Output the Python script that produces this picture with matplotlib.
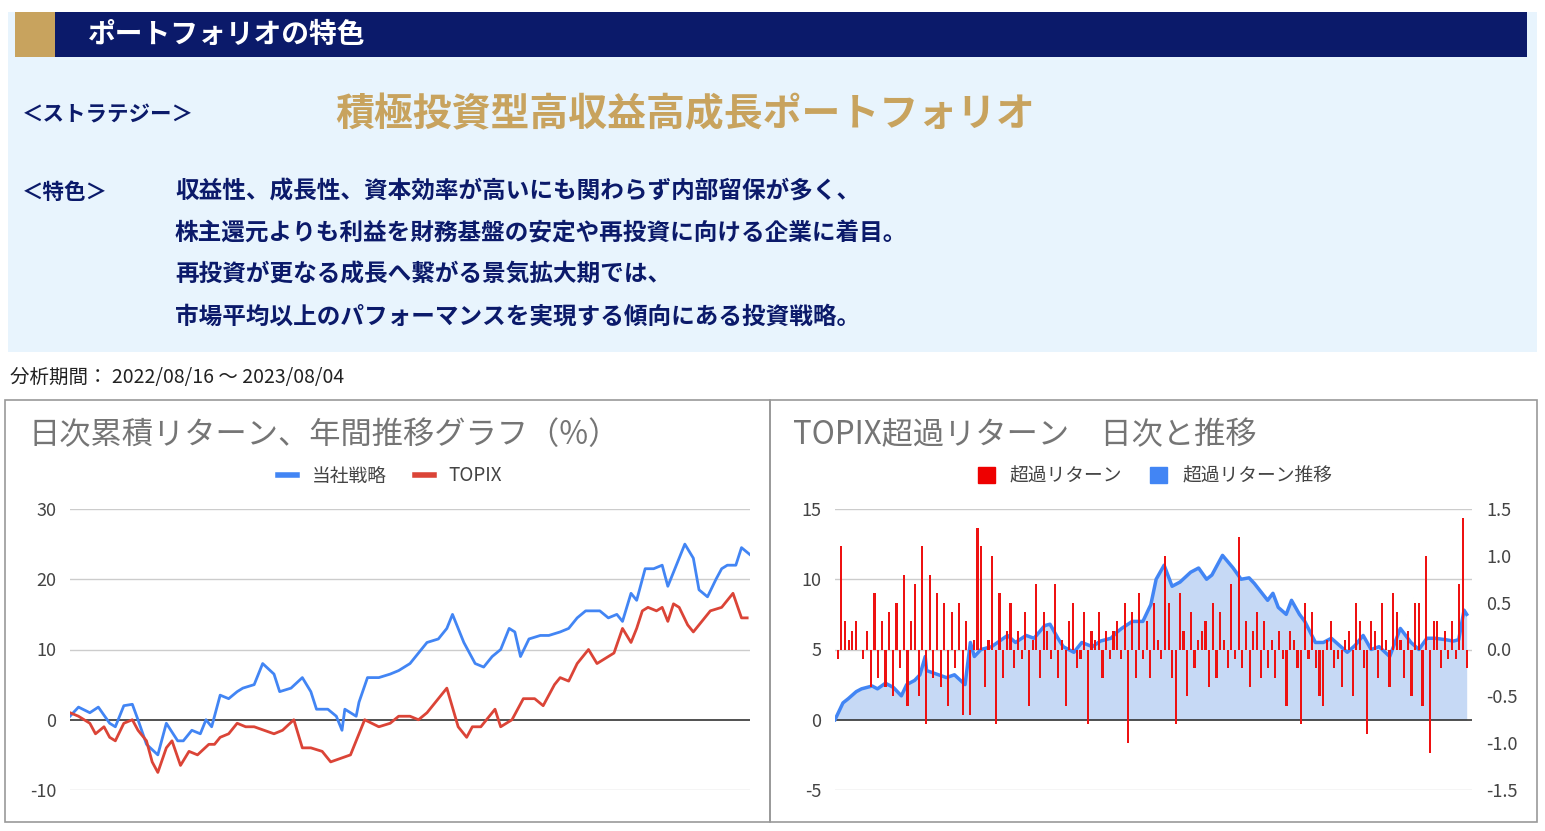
import numpy as np
import matplotlib.pyplot as plt
from matplotlib.patches import Rectangle
from matplotlib.lines import Line2D

plt.rcParams['font.family'] = ['Noto Sans CJK JP', 'DejaVu Sans']
plt.rcParams['axes.unicode_minus'] = False

W, H = 1545, 831

# ---- data ----
# left chart: positions along the year (0..240 trading days) and cumulative return (%)
strat_day = [0, 3, 7, 10, 14, 16, 19, 22, 24, 27, 31, 34, 38, 40, 43, 46, 48, 50, 53, 56, 59, 61, 65, 68, 72, 74, 78, 82, 85, 87, 91, 94, 96, 97, 101, 102, 105, 109, 113, 116, 120, 123, 126, 130, 133, 135, 139, 143, 146, 149, 152, 155, 157, 159, 162, 166, 169, 173, 176, 179, 182, 187, 190, 193, 195, 198, 200, 203, 206, 209, 211, 217, 220, 222, 225, 228, 230, 232, 235, 237, 240]
strat_ret = [0.5, 1.8, 1.0, 1.8, -0.5, -1.0, 2.0, 2.2, 0.0, -3.5, -5.0, -0.5, -3.0, -3.0, -1.5, -2.0, 0.0, -1.0, 3.5, 3.0, 4.0, 4.5, 5.0, 8.0, 6.5, 4.0, 4.5, 6.0, 4.0, 1.5, 1.5, 0.5, -1.5, 1.5, 0.5, 2.5, 6.0, 6.0, 6.5, 7.0, 8.0, 9.5, 11.0, 11.5, 13.0, 15.0, 11.0, 8.0, 7.5, 9.0, 10.0, 13.0, 12.5, 9.0, 11.5, 12.0, 12.0, 12.5, 13.0, 14.5, 15.5, 15.5, 14.5, 15.0, 14.0, 18.0, 17.0, 21.5, 21.5, 22.0, 19.0, 25.0, 23.0, 18.5, 17.5, 20.0, 21.5, 22.0, 22.0, 24.5, 23.5]
strat_day = strat_day[:len(strat_ret)]
topix_day = [0, 3, 7, 9, 12, 14, 16, 19, 22, 24, 27, 29, 31, 34, 36, 39, 42, 45, 49, 51, 53, 56, 59, 62, 65, 72, 75, 79, 82, 85, 89, 92, 99, 102, 104, 109, 113, 116, 120, 123, 126, 130, 133, 137, 140, 142, 145, 147, 150, 152, 156, 158, 160, 164, 167, 171, 173, 176, 179, 183, 186, 188, 192, 195, 198, 200, 202, 204, 207, 209, 211, 213, 215, 218, 220, 223, 226, 230, 234, 237, 239]
topix_ret = [1.0, 0.5, -0.5, -2.0, -1.0, -2.5, -3.0, -0.5, 0.0, -1.5, -3.0, -6.0, -7.5, -4.0, -3.0, -6.5, -4.5, -5.0, -3.5, -3.5, -2.5, -2.0, -0.5, -1.0, -1.0, -2.0, -1.5, 0.0, -4.0, -4.0, -4.5, -6.0, -5.0, -2.0, 0.0, -1.0, -0.5, 0.5, 0.5, 0.0, 1.0, 3.0, 4.5, -1.0, -2.5, -1.0, -1.0, 0.0, 1.5, -1.0, 0.0, 1.5, 3.0, 3.0, 2.0, 5.0, 6.0, 5.5, 8.0, 10.0, 8.0, 8.5, 9.5, 13.0, 11.0, 13.0, 15.5, 16.0, 15.5, 16.0, 14.0, 16.5, 16.0, 13.5, 12.5, 14.0, 15.5, 16.0, 18.0, 14.5, 14.5]
topix_day = topix_day[:len(topix_ret)]

# right chart: cumulative excess (left axis) and daily excess bars (right axis)
cum_day = [0, 3, 5, 8, 10, 14, 16, 19, 22, 25, 27, 30, 32, 34, 34.5, 39, 42, 45, 49, 51, 52.5, 55, 59, 62, 65, 68, 72, 75, 79, 81, 84, 86, 90, 93, 97, 100, 104, 106, 108, 112, 116, 119, 121, 124, 127, 130, 134, 137, 140, 142, 146, 150, 153, 156, 158, 163, 165, 167, 170, 172, 175, 177, 181, 184, 187, 190, 193, 196, 199, 202, 205, 209, 211, 213, 217, 220, 223, 226, 230, 233, 235, 237, 238]
cum_ex = [0.0, 1.2, 1.5, 2.0, 2.2, 2.4, 2.2, 2.6, 2.3, 1.7, 2.5, 2.8, 3.2, 4.5, 3.5, 3.2, 3.0, 3.2, 2.5, 5.5, 4.5, 5.0, 5.2, 5.6, 6.0, 5.5, 6.0, 5.8, 6.7, 6.8, 5.8, 5.2, 4.8, 5.5, 5.2, 5.6, 5.8, 6.2, 6.5, 7.0, 7.0, 8.2, 10.0, 11.0, 9.5, 9.8, 10.5, 10.8, 10.0, 10.3, 11.7, 10.8, 10.0, 10.1, 9.7, 8.5, 9.0, 8.0, 7.5, 8.5, 7.5, 7.0, 5.5, 5.5, 5.8, 5.3, 4.8, 5.3, 6.0, 5.0, 5.2, 4.5, 5.5, 6.5, 5.5, 5.0, 5.8, 5.8, 5.7, 5.6, 5.7, 7.8, 7.5]
cum_day = cum_day[:len(cum_ex)]
daily_ex = [-0.1, 1.1, 0.3, 0.1, 0.2, 0.3, 0.0, -0.1, 0.2, -0.4, 0.6, -0.3, 0.3, -0.4, 0.4, -0.5, 0.5, -0.2, 0.8, -0.6,
            0.3, 0.7, -0.5, 1.1, -0.8, 0.8, -0.3, 0.6, -0.4, 0.5, -0.6, 0.4, -0.2, 0.5, -0.7, 0.3, -0.7, 0.1, 1.3, 1.1,
            -0.4, 0.1, 1.0, -0.8, 0.6, -0.3, 0.2, 0.5, -0.2, 0.2, -0.1, 0.4, -0.6, 0.1, 0.7, -0.3, 0.4, 0.2, -0.1, 0.7,
            -0.3, 0.1, -0.6, 0.3, 0.5, -0.2, -0.1, 0.4, -0.8, 0.2, 0.1, 0.4, -0.3, 0.2, -0.1, 0.2, 0.3, -0.1, 0.5, -1.0,
            0.4, -0.3, 0.6, -0.1, 0.3, -0.3, 0.5, 0.1, -0.1, 1.0, 0.5, -0.3, -0.8, 0.6, 0.2, -0.5, 0.4, -0.2, 0.1, 0.2,
            0.3, -0.4, 0.5, -0.3, 0.4, 0.1, -0.2, 0.7, -0.1, 1.2, -0.2, 0.3, -0.4, 0.2, 0.4, -0.3, 0.3, -0.2, 0.1, -0.3,
            0.2, -0.1, -0.6, 0.2, 0.1, -0.2, -0.8, 0.5, -0.1, 0.4, -0.2, -0.5, -0.6, 0.1, 0.3, -0.2, -0.1, -0.4, 0.1, 0.2,
            -0.5, 0.5, 0.3, -0.2, -0.9, 0.3, 0.2, -0.3, 0.5, 0.1, -0.4, 0.6, 0.4, 0.1, -0.3, 0.2, -0.5, 0.5, 0.5, -0.6,
            1.0, -1.1, 0.3, 0.3, -0.2, 0.2, -0.1, 0.3, -0.1, 0.7, 1.4, -0.2]

lines_text = [
    '収益性、成長性、資本効率が高いにも関わらず内部留保が多く、',
    '株主還元よりも利益を財務基盤の安定や再投資に向ける企業に着目。',
    '再投資が更なる成長へ繋がる景気拡大期では、',
    '市場平均以上のパフォーマンスを実現する傾向にある投資戦略。',
]

NAVY = '#0b1a6a'
GOLD = '#c8a35e'
BLUE = '#4285f4'
RED = '#db4437'


def fx(px):
    return px / W


def fy(py):
    return 1 - py / H


fig = plt.figure(figsize=(W / 100, H / 100), dpi=100)


def box(x0, y0, x1, y1, **kw):
    fig.patches.append(Rectangle((fx(x0), fy(y1)), fx(x1 - x0), (y1 - y0) / H,
                                 transform=fig.transFigure, **kw))


# header panel
box(8, 12, 1537, 352, facecolor='#e8f4fd', edgecolor='none', zorder=-3)
box(15, 12, 1527, 57, facecolor=NAVY, edgecolor='none', zorder=-2)
box(15, 12, 55, 57, facecolor=GOLD, edgecolor='none', zorder=-1)
fig.text(fx(88), fy(35), 'ポートフォリオの特色', color='white', fontsize=20, weight='bold', va='center')
fig.text(fx(22), fy(115), '＜ストラテジー＞', color=NAVY, fontsize=15.5, weight='bold', va='center')
fig.text(fx(335), fy(115), '積極投資型高収益高成長ポートフォリオ', color=GOLD, fontsize=28, weight='bold', va='center')
fig.text(fx(22), fy(192), '＜特色＞', color=NAVY, fontsize=15.5, weight='bold', va='center')
for i, s in enumerate(lines_text):
    fig.text(fx(175), fy(192 + i * 41.5), s, color=NAVY, fontsize=17, weight='bold', va='center')
fig.text(fx(10), fy(378), '分析期間： 2022/08/16 ～ 2023/08/04', color='#222222', fontsize=14, va='center')

# chart frames
for x0, x1 in [(5, 770), (770, 1537)]:
    box(x0, 400, x1, 822, facecolor='none', edgecolor='#999999', lw=1.2, zorder=-1)

# ---- left chart ----
ax1 = fig.add_axes([fx(70), fy(790), fx(680), 281 / H])
ax1.plot(strat_day, strat_ret, color=BLUE, lw=2)
ax1.plot(topix_day, topix_ret, color=RED, lw=2)
ax1.set_ylim(-10, 30)
ax1.set_xlim(0, 240)
ax1.set_yticks([-10, 0, 10, 20, 30])
ax1.axhline(0, color='#333333', lw=1.2, zorder=1)
for y in [-10, 10, 20, 30]:
    ax1.axhline(y, color='#cccccc', lw=1, zorder=0)
ax1.set_xticks([])
for sp in ax1.spines.values():
    sp.set_visible(False)
ax1.tick_params(axis='y', length=0, labelsize=13, labelcolor='#444444', pad=10)
ax1.patch.set_alpha(0)
fig.text(fx(28), fy(435), '日次累積リターン、年間推移グラフ（%）', color='#757575', fontsize=22.5, va='center')
ax1.legend([Line2D([], [], color=BLUE, lw=4), Line2D([], [], color=RED, lw=4)], ['当社戦略', 'TOPIX'],
           loc='center', bbox_to_anchor=(fx(390), fy(476)), bbox_transform=fig.transFigure,
           ncol=2, frameon=False, fontsize=13.5, handlelength=1.0, columnspacing=1.5,
           labelcolor='#444444')

# ---- right chart ----
ax2 = fig.add_axes([fx(835), fy(790), fx(637), 281 / H])
ax2.fill_between(cum_day, cum_ex, 0, color='#c6d9f5', lw=0, zorder=1)
ax2.plot(cum_day, cum_ex, color=BLUE, lw=2.5, zorder=4)
ax2.set_ylim(-5, 15)
ax2.set_xlim(0, 240)
ax2.set_yticks([-5, 0, 5, 10, 15])
for y in [-5, 5, 10, 15]:
    ax2.axhline(y, color='#cccccc', lw=1, zorder=0)
ax2.axhline(0, color='#333333', lw=1.2, zorder=2)
ax2.set_xticks([])
ax2.tick_params(axis='y', length=0, labelsize=13, labelcolor='#444444', pad=10)
for sp in ax2.spines.values():
    sp.set_visible(False)
ax2.patch.set_alpha(0)

ax3 = ax2.twinx()
bar_x = np.linspace(1, 238, len(daily_ex))
ax3.bar(bar_x, daily_ex, width=0.8, color='#ee1111', lw=0, zorder=3)
ax3.set_ylim(-1.5, 1.5)
ax3.set_yticks([-1.5, -1.0, -0.5, 0.0, 0.5, 1.0, 1.5])
ax3.set_yticklabels(['-1.5', '-1.0', '-0.5', '0.0', '0.5', '1.0', '1.5'])
ax3.tick_params(axis='y', length=0, labelsize=13, labelcolor='#444444', pad=10)
for sp in ax3.spines.values():
    sp.set_visible(False)
fig.text(fx(793), fy(435), 'TOPIX超過リターン　日次と推移', color='#757575', fontsize=22.5, va='center')
ax3.legend([Rectangle((0, 0), 1, 1, color='#ee0000'), Rectangle((0, 0), 1, 1, color=BLUE)],
           ['超過リターン', '超過リターン推移'],
           loc='center', bbox_to_anchor=(fx(1155), fy(476)), bbox_transform=fig.transFigure,
           ncol=2, frameon=False, fontsize=13.5, handlelength=0.9, handleheight=0.9,
           columnspacing=1.5, labelcolor='#444444')

fig.savefig('out.png', dpi=100)
